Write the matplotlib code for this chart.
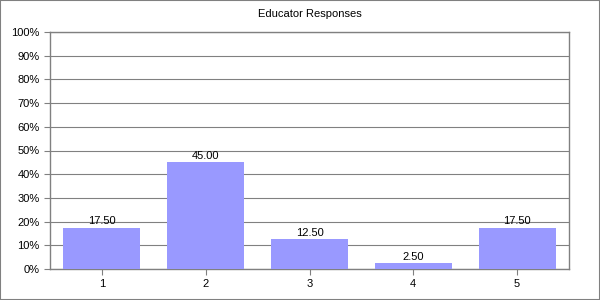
import matplotlib
matplotlib.use("Agg")
import matplotlib.pyplot as plt
from matplotlib.ticker import PercentFormatter

categories = ["1", "2", "3", "4", "5"]
values = [17.50, 45.00, 12.50, 2.50, 17.50]
yticks = list(range(0, 101, 10))

plt.rcParams["font.family"] = ["Liberation Sans", "DejaVu Sans"]

fig = plt.figure(figsize=(6, 3), dpi=100, facecolor="white")
fig.patches.append(plt.Rectangle((0, 0), 1, 1, transform=fig.transFigure,
                                 fill=False, edgecolor="#808080", linewidth=1.5))
ax = fig.add_axes([50 / 600, 1 - 269 / 300, 519 / 600, 237 / 300])

x = range(len(categories))
bars = ax.bar(x, values, width=0.74, color="#9999FF", zorder=3)
for b, v in zip(bars, values):
    ax.text(b.get_x() + b.get_width() / 2, v + 0.6, f"{v:.2f}",
            ha="center", va="bottom", fontsize=8, color="black")

ax.set_xlim(-0.5, len(categories) - 0.5)
ax.set_ylim(0, 100)
ax.set_xticks(list(x))
ax.set_xticklabels(categories)
ax.set_yticks(yticks)
ax.yaxis.set_major_formatter(PercentFormatter(decimals=0))
ax.yaxis.grid(True, color="#808080", linewidth=0.8, zorder=0)
ax.tick_params(axis="both", labelsize=8, colors="black", length=4,
               color="#808080", direction="out")
for s in ax.spines.values():
    s.set_color("#808080")
    s.set_linewidth(1)
ax.set_title("Educator Responses", fontsize=8, pad=11)

fig.savefig("out.png", dpi=100, facecolor="white")
